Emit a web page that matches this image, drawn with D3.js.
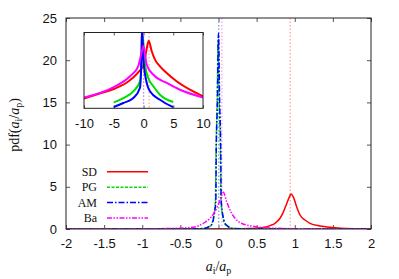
<!DOCTYPE html>
<html>
<head>
<meta charset="utf-8">
<script src="https://cdn.jsdelivr.net/npm/d3@7"></script>
<style>
  body { margin: 0; background: #fff; }
  svg { display: block; font-family: "Liberation Serif", "DejaVu Serif", serif; }
  .tick line { stroke: #555; }
  .domain { display: none; }
</style>
</head>
<body>
<svg id="chart"></svg>
<script>
// series names and colours
const names = ['SD', 'PG', 'AM', 'Ba'];
const colors = ['#ff0000', '#00dd00', '#0000ff', '#ff00ff'];
const dashes = [null, '3,1.5', '6,2,1.5,2', '5,1.5,1.5,1.5,1.5,1.5'];
const meanColors = ['#ff8c8c', '#8cf08c', '#8c8cff', '#f08cf0'];

// mean of each distribution (vertical dotted lines)
const means = [0.94, 0.0, 0.005, 0.045];

// main panel: pdf(a_i/a_p)
const sdX = [-2, 0, 0.3, 0.5, 0.6, 0.675, 0.741, 0.807, 0.85, 0.894, 0.93, 0.951, 0.981, 1.026, 1.069, 1.134, 1.2, 1.331, 1.462, 1.6, 2];
const sdY = [0, 0.01, 0.03, 0.1, 0.2, 0.4, 0.67, 1.27, 2.0, 3.0, 3.8, 4.15, 3.8, 2.6, 1.66, 1.07, 0.67, 0.36, 0.2, 0.1, 0.02];
const pgX = [-2, -0.5, -0.2, -0.1, -0.065, -0.04, -0.032, -0.018, -0.005, 0.01, 0.025, 0.032, 0.055, 0.09, 0.2, 0.5, 2];
const pgY = [0, 0, 0.05, 0.4, 1.5, 3.5, 9, 15, 22.5, 15, 9, 3.5, 1.5, 0.5, 0.05, 0, 0];
const amX = [-2, -0.5, -0.2, -0.09, -0.06, -0.035, -0.03, -0.015, 0, 0.015, 0.03, 0.035, 0.06, 0.1, 0.2, 0.5, 2];
const amY = [0, 0, 0.05, 0.5, 1.5, 3.4, 9, 15, 23.2, 15, 9, 3.4, 1.5, 0.5, 0.05, 0, 0];
const baX = [-2, -1, -0.5, -0.35, -0.265, -0.177, -0.111, -0.046, 0.02, 0.063, 0.108, 0.151, 0.216, 0.304, 0.435, 0.6, 1, 2];
const baY = [0, 0.02, 0.1, 0.2, 0.36, 0.8, 1.27, 2.05, 3.4, 4.35, 3.2, 2.25, 1.27, 0.67, 0.36, 0.15, 0.04, 0];

// inset: same distributions on a log scale, wide range
const sdInX = [-10, -7.5, -5, -2.5, -1, 0, 0.4, 0.7, 0.88, 1.37, 1.93, 2.77, 3.9, 5.56, 7.8, 10];
const sdInY = [8e-6, 2.2e-5, 6e-5, 3.1e-4, 1.8e-3, 1e-2, 0.128, 0.87, 1.75, 0.195, 0.031, 7.5e-3, 1.8e-3, 3.1e-4, 5.2e-5, 1.3e-5];
const pgInX = [-5, -3.39, -1.71, -0.59, -0.35, -0.15, 0.25, 0.8, 1.65, 2.77, 5];
const pgInY = [3.5e-6, 8.9e-6, 3.7e-5, 3.1e-4, 8e-3, 4.7, 0.0106, 6.3e-4, 1.08e-4, 1.8e-5, 3.8e-6];
const amInX = [-5, -3.39, -1.71, -0.6, -0.4, -0.25, -0.03, 0.42, 1.09, 2.77, 4.73, 5];
const amInY = [1.3e-6, 3.1e-6, 8.9e-6, 7.5e-5, 5.3e-3, 30, 0.044, 4.4e-4, 3.7e-5, 6.2e-6, 1.5e-6, 1.3e-6];
const baInX = [-10, -5.08, -2.27, -0.87, -0.3, 0, 0.54, 1.65, 3.9, 6.13, 10];
const baInY = [1e-5, 8.7e-5, 9e-4, 8e-3, 0.16, 0.57, 0.0106, 1.27e-3, 2.2e-4, 5.2e-5, 1e-5];

const xTicks = [-2, -1.5, -1, -0.5, 0, 0.5, 1, 1.5, 2];
const yTicks = [0, 5, 10, 15, 20, 25];
const inXTicks = [-10, -5, 0, 5, 10];

const width = 399, height = 279;
const margin = { top: 18, right: 28, bottom: 50, left: 66 };
const svg = d3.select('#chart').attr('width', width).attr('height', height);

const x = d3.scaleLinear().domain([-2, 2]).range([margin.left, width - margin.right]);
const y = d3.scaleLinear().domain([0, 25]).range([height - margin.bottom, margin.top]);

const zip = (xs, ys) => xs.map((v, i) => [v, ys[i]]);
const mainSeries = [zip(sdX, sdY), zip(pgX, pgY), zip(amX, amY), zip(baX, baY)];
const insetSeries = [zip(sdInX, sdInY), zip(pgInX, pgInY), zip(amInX, amInY), zip(baInX, baInY)];

const defs = svg.append('defs');
defs.append('clipPath').attr('id', 'clipMain').append('rect')
  .attr('x', x(-2)).attr('y', y(25)).attr('width', x(2) - x(-2)).attr('height', y(0) - y(25));

// axes with inward ticks on all four sides
svg.append('g').attr('transform', `translate(0,${y(0)})`)
  .call(d3.axisBottom(x).tickValues(xTicks).tickSize(-4).tickSizeOuter(0).tickPadding(10)
    .tickFormat(d => String(d)))
  .call(g => g.selectAll('text').attr('font-size', 13).attr('fill', '#111'));
svg.append('g').attr('transform', `translate(0,${y(25)})`)
  .call(d3.axisTop(x).tickValues(xTicks).tickSize(-4).tickSizeOuter(0).tickFormat(''));
svg.append('g').attr('transform', `translate(${x(-2)},0)`)
  .call(d3.axisLeft(y).tickValues(yTicks).tickSize(-4).tickSizeOuter(0).tickPadding(9))
  .call(g => g.selectAll('text').attr('font-size', 13).attr('fill', '#111'));
svg.append('g').attr('transform', `translate(${x(2)},0)`)
  .call(d3.axisRight(y).tickValues(yTicks).tickSize(-4).tickSizeOuter(0).tickFormat(''));

// mean lines
const main = svg.append('g').attr('clip-path', 'url(#clipMain)');
main.selectAll('line.mean').data(means).join('line')
  .attr('class', 'mean')
  .attr('x1', d => x(d)).attr('x2', d => x(d))
  .attr('y1', y(25)).attr('y2', y(0))
  .attr('stroke', (d, i) => meanColors[i]).attr('stroke-width', 1)
  .attr('stroke-dasharray', '1.5,2');

const line = d3.line().curve(d3.curveMonotoneX).x(d => x(d[0])).y(d => y(d[1]));
main.selectAll('path.curve').data(mainSeries).join('path')
  .attr('class', 'curve')
  .attr('d', line)
  .attr('fill', 'none')
  .attr('stroke', (d, i) => colors[i])
  .attr('stroke-width', 1.5)
  .attr('stroke-dasharray', (d, i) => dashes[i]);

svg.append('rect')
  .attr('x', x(-2)).attr('y', y(25)).attr('width', x(2) - x(-2)).attr('height', y(0) - y(25))
  .attr('fill', 'none').attr('stroke', '#222').attr('stroke-width', 1);

// inset
const ix = d3.scaleLinear().domain([-10, 10]).range([84, 203]);
const iy = d3.scaleLog().domain([1e-6, 10]).range([108.3, 32.5]);

defs.append('clipPath').attr('id', 'clipInset').append('rect')
  .attr('x', ix(-10)).attr('y', iy(10)).attr('width', ix(10) - ix(-10)).attr('height', iy(1e-6) - iy(10));

svg.append('rect')
  .attr('x', ix(-10)).attr('y', iy(10)).attr('width', ix(10) - ix(-10)).attr('height', iy(1e-6) - iy(10))
  .attr('fill', '#fff');

svg.append('g').attr('transform', `translate(0,${iy(1e-6)})`)
  .call(d3.axisBottom(ix).tickValues(inXTicks).tickSize(-3).tickSizeOuter(0).tickPadding(10)
    .tickFormat(d => String(d)))
  .call(g => g.selectAll('text').attr('font-size', 13).attr('fill', '#111'));
svg.append('g').attr('transform', `translate(0,${iy(10)})`)
  .call(d3.axisTop(ix).tickValues(inXTicks).tickSize(-3).tickSizeOuter(0).tickFormat(''));

const inset = svg.append('g').attr('clip-path', 'url(#clipInset)');
inset.selectAll('line.mean').data(means).join('line')
  .attr('class', 'mean')
  .attr('x1', d => ix(d)).attr('x2', d => ix(d))
  .attr('y1', iy(10)).attr('y2', iy(1e-6))
  .attr('stroke', (d, i) => meanColors[i]).attr('stroke-width', 1)
  .attr('stroke-dasharray', '1.5,2');

const iline = d3.line().curve(d3.curveMonotoneX).x(d => ix(d[0])).y(d => iy(d[1]));
inset.selectAll('path.curve').data(insetSeries).join('path')
  .attr('class', 'curve')
  .attr('d', iline)
  .attr('fill', 'none')
  .attr('stroke', (d, i) => colors[i])
  .attr('stroke-width', 2);

svg.append('rect')
  .attr('x', ix(-10)).attr('y', iy(10)).attr('width', ix(10) - ix(-10)).attr('height', iy(1e-6) - iy(10))
  .attr('fill', 'none').attr('stroke', '#222').attr('stroke-width', 1);

// legend
const legend = svg.append('g');
const legendY = d3.scalePoint().domain(names).range([171.7, 218]);
names.forEach((n, i) => {
  const ly = legendY(n);
  legend.append('text').attr('x', 97).attr('y', ly).attr('dy', '0.35em')
    .attr('text-anchor', 'end').attr('font-size', 12).attr('fill', '#111').text(n);
  legend.append('line').attr('x1', 107).attr('x2', 148).attr('y1', ly).attr('y2', ly)
    .attr('stroke', colors[i]).attr('stroke-width', 1.5)
    .attr('stroke-dasharray', dashes[i]);
});

// axis labels
const xl = svg.append('text').attr('x', x(0)).attr('y', 271)
  .attr('text-anchor', 'middle').attr('font-size', 14).attr('fill', '#111');
xl.append('tspan').attr('font-style', 'italic').text('a');
xl.append('tspan').attr('font-size', 10).attr('dy', 3).text('i');
xl.append('tspan').attr('dy', -3).text('/');
xl.append('tspan').attr('font-style', 'italic').text('a');
xl.append('tspan').attr('font-size', 10).attr('dy', 3).text('p');

const yl = svg.append('text').attr('transform', 'translate(19,125) rotate(-90)')
  .attr('text-anchor', 'middle').attr('font-size', 14).attr('fill', '#111');
yl.append('tspan').text('pdf(');
yl.append('tspan').attr('font-style', 'italic').text('a');
yl.append('tspan').attr('font-size', 10).attr('dy', 3).text('i');
yl.append('tspan').attr('dy', -3).text('/');
yl.append('tspan').attr('font-style', 'italic').text('a');
yl.append('tspan').attr('font-size', 10).attr('dy', 3).text('p');
yl.append('tspan').attr('dy', -3).text(')');
</script>
</body>
</html>
